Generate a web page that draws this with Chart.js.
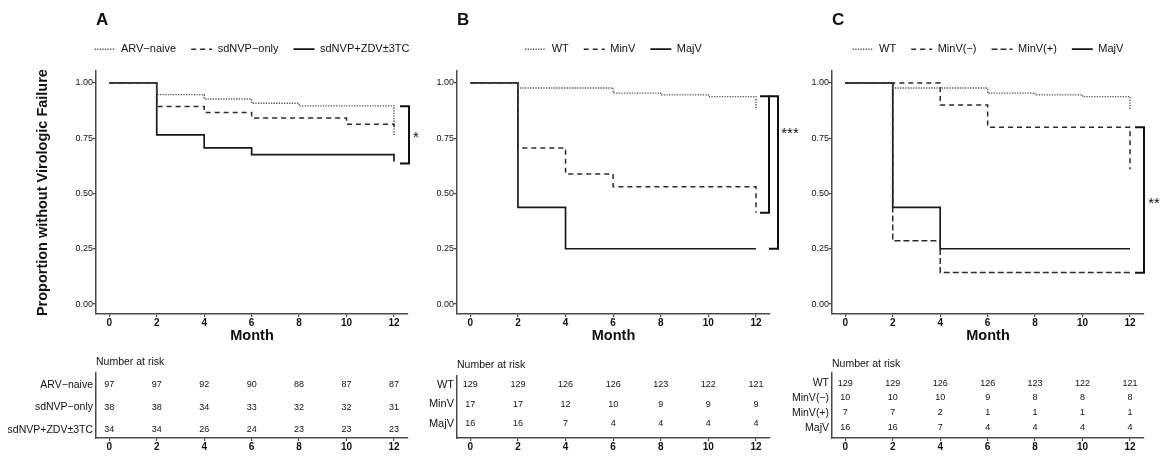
<!DOCTYPE html>
<html>
<head>
<meta charset="utf-8">
<title>Virologic failure by group</title>
<script src="https://cdn.jsdelivr.net/npm/chart.js@4.4.1/dist/chart.umd.min.js"></script>
<style>
  html, body { margin: 0; padding: 0; background: #fff; }
  body { width: 1161px; height: 456px; position: relative; overflow: hidden; }
  .box { position: absolute; }
</style>
</head>
<body>
<div class="box" style="left:0;top:0;width:475px;height:345px"><canvas id="kmA"></canvas></div>
<div class="box" style="left:430px;top:0;width:372px;height:345px"><canvas id="kmB"></canvas></div>
<div class="box" style="left:790px;top:0;width:396px;height:345px"><canvas id="kmC"></canvas></div>
<div class="box" style="left:0;top:345px;width:430px;height:111px"><canvas id="riskA"></canvas></div>
<div class="box" style="left:420px;top:345px;width:382px;height:111px"><canvas id="riskB"></canvas></div>
<div class="box" style="left:775px;top:345px;width:386px;height:111px"><canvas id="riskC"></canvas></div>
<script>
// months shown on every x axis and in the risk tables
const months = [0, 2, 4, 6, 8, 10, 12];
const yTicks = [0, 0.25, 0.5, 0.75, 1];

// Panel A: survival steps (time of each drop, proportion after it)
const naiveT = [0, 2, 4, 6, 8, 12];
const naiveS = [1, 0.947, 0.927, 0.908, 0.896, 0.76];
const sdnvpT = [0, 2, 4, 6, 10, 12];
const sdnvpS = [1, 0.893, 0.866, 0.841, 0.813, 0.78];
const zdvT = [0, 2, 4, 6, 12];
const zdvS = [1, 0.765, 0.706, 0.676, 0.645];

// Panel B
const wtT = [0, 2, 6, 8, 10, 12];
const wtS = [1, 0.977, 0.954, 0.946, 0.938, 0.88];
const minvT = [0, 2, 4, 6, 12];
const minvS = [1, 0.706, 0.588, 0.53, 0.413];
const majvT = [0, 2, 4, 12];
const majvS = [1, 0.4375, 0.25, 0.25];

// Panel C (WT and MajV as in B)
const minvNegT = [0, 4, 6, 12];
const minvNegS = [1, 0.9, 0.8, 0.61];
const minvPosT = [0, 2, 4, 12];
const minvPosS = [1, 0.286, 0.143, 0.143];

// numbers at risk
const riskRowsA = ["ARV−naive", "sdNVP−only", "sdNVP+ZDV±3TC"];
const riskNaive = [97, 97, 92, 90, 88, 87, 87];
const riskSdnvp = [38, 38, 34, 33, 32, 32, 31];
const riskZdv = [34, 34, 26, 24, 23, 23, 23];

const riskRowsB = ["WT", "MinV", "MajV"];
const riskWt = [129, 129, 126, 126, 123, 122, 121];
const riskMinv = [17, 17, 12, 10, 9, 9, 9];
const riskMajv = [16, 16, 7, 4, 4, 4, 4];

const riskRowsC = ["WT", "MinV(−)", "MinV(+)", "MajV"];
const riskMinvNeg = [10, 10, 10, 9, 8, 8, 8];
const riskMinvPos = [7, 7, 2, 1, 1, 1, 1];

// significance brackets: [top, bottom] in proportion units
const bracketA = [[0.895, 0.636]];
const bracketB = [[0.94, 0.413], [0.94, 0.25]];
const bracketC = [[0.80, 0.141]];

const SANS = "'Liberation Sans', Arial, sans-serif";
const AXIS = "#4a4a4a";
const INK = "#111";
const X_MIN = -0.56, X_MAX = 12.59;

const DOT = { color: "#555", width: 1.4, dash: [1.3, 1.3] };
const DASH = { color: "#2a2a2a", width: 1.5, dash: [5, 4] };
const DASH2 = { color: "#2a2a2a", width: 1.5, dash: [6, 3] };
const SOLID = { color: "#1a1a1a", width: 1.7, dash: [] };

Chart.defaults.font.family = SANS;
Chart.defaults.color = INK;

const bracketPlugin = {
  id: "bracket",
  afterDraw(chart, args, opts) {
    if (!opts.spans) return;
    const { ctx, chartArea } = chart;
    const y = chart.scales.y;
    ctx.save();
    ctx.strokeStyle = INK;
    ctx.lineWidth = 2;
    opts.spans.forEach((s, i) => {
      const x = chartArea.right + opts.dx[i];
      const y0 = y.getPixelForValue(s[0]);
      const y1 = y.getPixelForValue(s[1]);
      ctx.beginPath();
      ctx.moveTo(x - 9, y0);
      ctx.lineTo(x, y0);
      ctx.lineTo(x, y1);
      ctx.lineTo(x - 9, y1);
      ctx.stroke();
    });
    ctx.fillStyle = INK;
    ctx.font = "15px " + SANS;
    ctx.textAlign = "center";
    ctx.textBaseline = "middle";
    ctx.fillText(opts.label, chartArea.right + opts.labelDx, y.getPixelForValue(opts.labelAt));
    ctx.restore();
  }
};

const riskTextPlugin = {
  id: "riskText",
  afterDatasetsDraw(chart) {
    const { ctx } = chart;
    ctx.save();
    ctx.font = "9px " + SANS;
    ctx.fillStyle = INK;
    ctx.textAlign = "center";
    ctx.textBaseline = "middle";
    chart.data.datasets.forEach((ds, i) => {
      chart.getDatasetMeta(i).data.forEach((pt, j) => {
        ctx.fillText(String(ds.data[j].n), pt.x, pt.y);
      });
    });
    ctx.restore();
  }
};

function axisGrid() {
  return { drawOnChartArea: false, drawTicks: true, tickLength: 3, color: AXIS, lineWidth: 1.2 };
}

function legendLabels(chart) {
  return chart.data.datasets.map((ds, i) => ({
    text: ds.label,
    strokeStyle: ds.borderColor,
    fillStyle: ds.borderColor,
    lineWidth: ds.borderWidth,
    lineDash: ds.borderDash,
    pointStyle: "line",
    fontColor: INK,
    hidden: false,
    datasetIndex: i
  }));
}

function kmChart(id, series, o) {
  return new Chart(document.getElementById(id), {
    type: "line",
    data: {
      datasets: series.map((s) => ({
        label: s.label,
        data: s.t.map((t, i) => ({ x: t, y: s.s[i] })),
        stepped: true,
        borderColor: s.style.color,
        borderWidth: s.style.width,
        borderDash: s.style.dash,
        pointRadius: 0,
        fill: false
      }))
    },
    options: {
      responsive: true,
      maintainAspectRatio: false,
      animation: false,
      events: [],
      layout: { padding: { left: o.padL, right: o.padR, top: 0, bottom: 0 } },
      plugins: {
        title: {
          display: true, text: o.letter, align: "start", fullSize: false, color: INK,
          font: { family: SANS, size: 17, weight: "bold", lineHeight: 1.2 },
          padding: { top: 10, bottom: -1.7 }
        },
        subtitle: {
          display: true, text: "", weight: 500,
          font: { size: 1, lineHeight: 1 }, padding: { top: 5.5, bottom: 0 }
        },
        legend: {
          display: true, position: "top", fullSize: true,
          labels: {
            usePointStyle: true, pointStyle: "line", pointStyleWidth: 21, padding: 15,
            color: INK, font: { family: SANS, size: 11 }, generateLabels: legendLabels
          }
        },
        tooltip: { enabled: false },
        bracket: o.bracket
      },
      scales: {
        x: {
          type: "linear", min: X_MIN, max: X_MAX,
          afterBuildTicks: (s) => { s.ticks = months.map((v) => ({ value: v })); },
          afterFit: (s) => { s.height = 31; },
          grid: axisGrid(),
          border: { display: true, color: AXIS, width: 1.5 },
          ticks: { padding: 0, color: INK, maxRotation: 0, autoSkip: false, font: { family: SANS, size: 10, weight: "bold" } },
          title: {
            display: true, text: "Month", color: INK,
            font: { family: SANS, size: 14.5, weight: "bold", lineHeight: 1.2 },
            padding: { top: 0, bottom: 0 }
          }
        },
        y: {
          type: "linear", min: -0.045, max: 1.053,
          afterBuildTicks: (s) => { s.ticks = yTicks.map((v) => ({ value: v })); },
          afterFit: (s) => { s.width = o.yW; },
          grid: axisGrid(),
          border: { display: true, color: AXIS, width: 1.5 },
          ticks: { padding: 0, color: INK, callback: (v) => Number(v).toFixed(2), font: { family: SANS, size: 9 } },
          title: {
            display: !!o.yTitle, text: o.yTitle || "", color: INK,
            font: { family: SANS, size: 14.5, weight: "bold", lineHeight: 1.2 },
            padding: { top: 5, bottom: 0 }
          }
        },
        yR: {
          type: "linear", position: "right", display: true,
          grid: { display: false, drawTicks: false },
          border: { display: false },
          ticks: { display: false },
          afterFit: (s) => { s.width = o.rightW; }
        }
      }
    },
    plugins: [bracketPlugin]
  });
}

function riskChart(id, rows, counts, o) {
  return new Chart(document.getElementById(id), {
    type: "scatter",
    data: {
      datasets: counts.map((arr, i) => ({
        label: rows[i],
        data: arr.map((n, j) => ({ x: months[j], y: i, n: n })),
        pointRadius: 0,
        showLine: false
      }))
    },
    options: {
      responsive: true,
      maintainAspectRatio: false,
      animation: false,
      events: [],
      layout: { padding: { left: 0, right: o.padR, top: 0, bottom: 0 } },
      plugins: {
        legend: { display: false },
        tooltip: { enabled: false },
        title: {
          display: true, text: "Number at risk", align: "start", fullSize: false, color: INK,
          font: { family: SANS, size: 10.5, weight: "normal", lineHeight: 1.2 },
          padding: { top: o.titleTop, bottom: o.titleBottom }
        }
      },
      scales: {
        x: {
          type: "linear", min: X_MIN, max: X_MAX,
          afterBuildTicks: (s) => { s.ticks = months.map((v) => ({ value: v })); },
          afterFit: (s) => { s.height = 18; },
          grid: axisGrid(),
          border: { display: true, color: AXIS, width: 1.5 },
          ticks: { padding: 0, color: INK, maxRotation: 0, autoSkip: false, font: { family: SANS, size: 10, weight: "bold" } }
        },
        y: {
          type: "linear", reverse: true, min: o.yMin, max: o.yMax,
          afterBuildTicks: (s) => { s.ticks = rows.map((r, i) => ({ value: i })); },
          afterFit: (s) => { s.width = o.yW; },
          grid: { display: false, drawTicks: false },
          border: { display: true, color: AXIS, width: 1.5 },
          ticks: { padding: 3, color: INK, callback: (v) => rows[v], font: { family: SANS, size: o.labelSize } }
        }
      }
    },
    plugins: [riskTextPlugin]
  });
}

kmChart("kmA", [
  { label: "ARV−naive", t: naiveT, s: naiveS, style: DOT },
  { label: "sdNVP−only", t: sdnvpT, s: sdnvpS, style: DASH },
  { label: "sdNVP+ZDV±3TC", t: zdvT, s: zdvS, style: SOLID }
], {
  letter: "A", padL: 29, padR: 0, yW: 67, rightW: 67,
  yTitle: "Proportion without Virologic Failure",
  bracket: { spans: bracketA, dx: [1], label: "*", labelAt: 0.75, labelDx: 8 }
});

kmChart("kmB", [
  { label: "WT", t: wtT, s: wtS, style: DOT },
  { label: "MinV", t: minvT, s: minvS, style: DASH },
  { label: "MajV", t: majvT, s: majvS, style: SOLID }
], {
  letter: "B", padL: 0, padR: 5, yW: 27, rightW: 27,
  bracket: { spans: bracketB, dx: [-1, 8], label: "***", labelAt: 0.77, labelDx: 20 }
});

kmChart("kmC", [
  { label: "WT", t: wtT, s: wtS, style: DOT },
  { label: "MinV(−)", t: minvNegT, s: minvNegS, style: DASH },
  { label: "MinV(+)", t: minvPosT, s: minvPosS, style: DASH2 },
  { label: "MajV", t: majvT, s: majvS, style: SOLID }
], {
  letter: "C", padL: 0, padR: 0, yW: 42, rightW: 42,
  bracket: { spans: bracketC, dx: [0], label: "**", labelAt: 0.455, labelDx: 10 }
});

riskChart("riskA", riskRowsA, [riskNaive, riskSdnvp, riskZdv], {
  yW: 96, padR: 22, yMin: -0.53, yMax: 2.36, titleTop: 11.2, titleBottom: 4.2, labelSize: 10.5
});
riskChart("riskB", riskRowsB, [riskWt, riskMinv, riskMajv], {
  yW: 37, padR: 32, yMin: -0.46, yMax: 2.72, titleTop: 14.2, titleBottom: 4.2, labelSize: 11
});
riskChart("riskC", riskRowsC, [riskWt, riskMinvNeg, riskMinvPos, riskMajv], {
  yW: 57, padR: 17, yMin: -0.67, yMax: 3.67, titleTop: 13.2, titleBottom: 2.2, labelSize: 10.5
});
</script>
</body>
</html>
